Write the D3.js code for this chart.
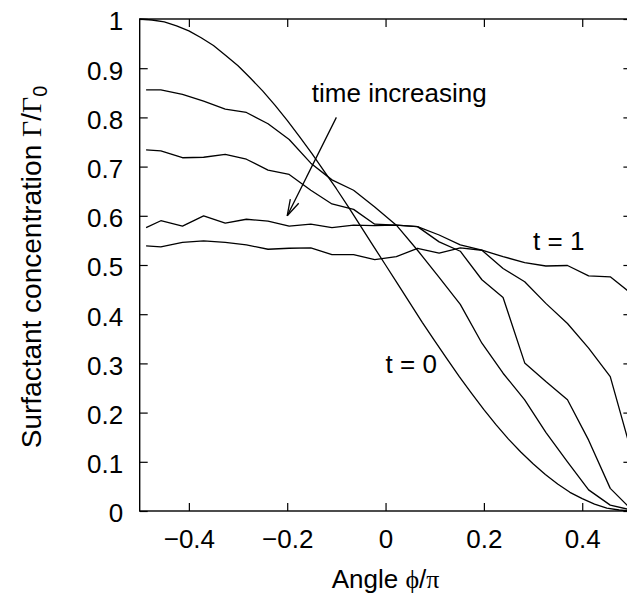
<!DOCTYPE html>
<html lang="en">
<head>
<meta charset="UTF-8">
<title>Surfactant concentration vs angle</title>
<script src="https://d3js.org/d3.v7.min.js"></script>
<style>
  body { margin: 0; background: #fff; }
  svg text { font-family: "Liberation Sans", Arial, sans-serif; fill: #000; }
  .curve { fill: none; stroke: #000; stroke-width: 1.3; stroke-linejoin: round; }
  .tick line { stroke: #000; stroke-width: 1.2; }
</style>
</head>
<body>
<div id="chart"></div>
<script>
// initial profile t = 0 (smooth curve)
const initialAngles = [-0.5, -0.475, -0.45, -0.425, -0.4, -0.375, -0.35, -0.325, -0.3, -0.275,
  -0.25, -0.225, -0.2, -0.175, -0.15, -0.125, -0.1, -0.075, -0.05, -0.025,
  0, 0.025, 0.05, 0.075, 0.1, 0.125, 0.15, 0.175, 0.2, 0.225,
  0.25, 0.275, 0.3, 0.325, 0.35, 0.375, 0.4, 0.425, 0.45, 0.475, 0.5];
const initialProfile = [1.000, 0.998, 0.994, 0.986, 0.976, 0.962, 0.946, 0.926, 0.905, 0.880,
  0.854, 0.825, 0.794, 0.761, 0.727, 0.691, 0.655, 0.617, 0.578, 0.539,
  0.500, 0.461, 0.422, 0.383, 0.346, 0.309, 0.273, 0.239, 0.206, 0.175,
  0.146, 0.120, 0.096, 0.074, 0.055, 0.038, 0.025, 0.014, 0.006, 0.002, 0.000];

// later profiles, sampled on a coarser grid
const angles = [-0.487, -0.457, -0.413, -0.370, -0.326, -0.283, -0.239, -0.196, -0.152, -0.109,
  -0.065, -0.022, 0.022, 0.065, 0.109, 0.152, 0.196, 0.239, 0.283, 0.326,
  0.370, 0.413, 0.457, 0.500];
const profile1 = [0.856, 0.856, 0.847, 0.833, 0.817, 0.810, 0.787, 0.755, 0.707, 0.673,
  0.652, 0.618, 0.581, 0.530, 0.475, 0.420, 0.341, 0.280, 0.226, 0.160,
  0.100, 0.043, 0.012, 0.002];
const profile2 = [0.734, 0.732, 0.718, 0.719, 0.725, 0.715, 0.693, 0.684, 0.652, 0.624,
  0.613, 0.583, 0.581, 0.578, 0.547, 0.528, 0.470, 0.434, 0.301, 0.263,
  0.226, 0.144, 0.046, 0.003];
const profile3 = [0.576, 0.590, 0.579, 0.600, 0.585, 0.593, 0.589, 0.579, 0.583, 0.576,
  0.581, 0.580, 0.581, 0.578, 0.561, 0.541, 0.530, 0.493, 0.466, 0.422,
  0.381, 0.331, 0.273, 0.120];
const profileFinal = [0.539, 0.537, 0.546, 0.549, 0.546, 0.541, 0.532, 0.534, 0.535, 0.521,
  0.521, 0.511, 0.517, 0.534, 0.524, 0.535, 0.530, 0.517, 0.505, 0.498,
  0.499, 0.478, 0.476, 0.442];

// ticks
const xTicks = [-0.4, -0.2, 0, 0.2, 0.4];
const xTickLabels = ["\u22120.4", "\u22120.2", "0", "0.2", "0.4"];
const yTicks = [0, 0.1, 0.2, 0.3, 0.4, 0.5, 0.6, 0.7, 0.8, 0.9, 1];
const yTickLabels = ["0", "0.1", "0.2", "0.3", "0.4", "0.5", "0.6", "0.7", "0.8", "0.9", "1"];

// annotations (data coordinates)
const labels = [
  { text: "time increasing", x: -0.15, y: 0.85 },
  { text: "t = 0", x: 0.0, y: 0.30 },
  { text: "t = 1", x: 0.3, y: 0.55 }
];
const arrow = { x1: -0.1, y1: 0.8, x2: -0.2, y2: 0.6 };

const W = 627, H = 599;
const margin = { top: 19, left: 139.7 };
const width = 491.7, height = 492;
const fontSize = 26;

const svg = d3.select("#chart").append("svg")
  .attr("width", W).attr("height", H);
const g = svg.append("g").attr("transform", `translate(${margin.left},${margin.top})`);

const x = d3.scaleLinear().domain([-0.5, 0.5]).range([0, width]);
const y = d3.scaleLinear().domain([0, 1]).range([height, 0]);

// axes, ticks pointing inward, mirrored on top and right
g.append("g")
  .attr("transform", `translate(0,${height})`)
  .call(d3.axisBottom(x).tickValues(xTicks).tickSizeInner(-8).tickSizeOuter(0)
    .tickPadding(18.5).tickFormat((d, i) => xTickLabels[i]))
  .call(a => a.select(".domain").remove())
  .selectAll("text").style("font-size", fontSize + "px");

g.append("g")
  .call(d3.axisLeft(y).tickValues(yTicks).tickSizeInner(-8).tickSizeOuter(0)
    .tickPadding(16.5).tickFormat((d, i) => yTickLabels[i]))
  .call(a => a.select(".domain").remove())
  .selectAll("text").style("font-size", fontSize + "px").attr("dy", "0.42em");

g.append("g")
  .call(d3.axisTop(x).tickValues(xTicks).tickSizeInner(-8).tickSizeOuter(0).tickFormat(""))
  .call(a => a.select(".domain").remove());

g.append("g")
  .attr("transform", `translate(${width},0)`)
  .call(d3.axisRight(y).tickValues(yTicks).tickSizeInner(-8).tickSizeOuter(0).tickFormat(""))
  .call(a => a.select(".domain").remove());

// frame
g.append("rect")
  .attr("x", 0).attr("y", 0).attr("width", width).attr("height", height)
  .attr("fill", "none").attr("stroke", "#000").attr("stroke-width", 1.4);

// curves
const line = d3.line().x(d => x(d[0])).y(d => y(d[1]));
g.append("path").attr("class", "curve")
  .datum(initialAngles.map((a, i) => [a, initialProfile[i]]))
  .attr("d", line);
[profile1, profile2, profile3, profileFinal].forEach(p => {
  g.append("path").attr("class", "curve")
    .datum(angles.map((a, i) => [a, p[i]]))
    .attr("d", line);
});

// text labels
labels.forEach(l => {
  g.append("text")
    .attr("x", x(l.x)).attr("y", y(l.y))
    .attr("dy", "0.35em")
    .style("font-size", fontSize + "px")
    .text(l.text);
});

// arrow with open head
const ax1 = x(arrow.x1), ay1 = y(arrow.y1), ax2 = x(arrow.x2), ay2 = y(arrow.y2);
g.append("line")
  .attr("x1", ax1).attr("y1", ay1).attr("x2", ax2).attr("y2", ay2)
  .attr("stroke", "#000").attr("stroke-width", 1.3);
const ang = Math.atan2(ay1 - ay2, ax1 - ax2);
[-0.28, 0.28].forEach(da => {
  g.append("line")
    .attr("x1", ax2).attr("y1", ay2)
    .attr("x2", ax2 + 17 * Math.cos(ang + da))
    .attr("y2", ay2 + 17 * Math.sin(ang + da))
    .attr("stroke", "#000").attr("stroke-width", 1.3);
});

// axis titles
const xt = svg.append("text")
  .attr("x", margin.left + x(0)).attr("y", 588)
  .attr("text-anchor", "middle")
  .style("font-size", fontSize + "px");
xt.append("tspan").text("Angle ");
xt.append("tspan").style("font-family", "'Liberation Serif', 'DejaVu Serif', serif").text("\u03d5");
xt.append("tspan").text("/");
xt.append("tspan").style("font-family", "'Liberation Serif', serif").text("\u03c0");

const yt = svg.append("text")
  .attr("transform", `translate(41,${margin.top + height / 2 + 2}) rotate(-90)`)
  .attr("text-anchor", "middle")
  .style("font-size", "28px");
yt.append("tspan").text("Surfactant concentration ");
yt.append("tspan").style("font-family", "'Liberation Serif', serif").text("\u0393");
yt.append("tspan").text("/");
yt.append("tspan").style("font-family", "'Liberation Serif', serif").text("\u0393");
yt.append("tspan").attr("dy", "0.3em").style("font-size", "20px").text("0");
</script>
</body>
</html>
